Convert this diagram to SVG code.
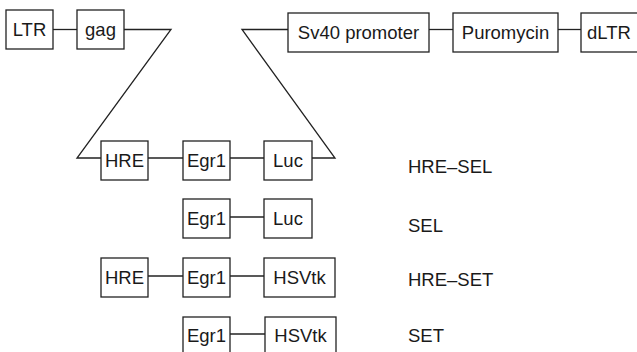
<svg xmlns="http://www.w3.org/2000/svg" width="637" height="352" viewBox="0 0 637 352">
  <style>
    .box { fill: #ffffff; stroke: #222222; stroke-width: 1.3; }
    .wire { fill: none; stroke: #222222; stroke-width: 1.3; stroke-linejoin: miter; }
    text { font-family: "Liberation Sans", Arial, sans-serif; font-size: 18.5px; fill: #1a1a1a; }
    .in { text-anchor: middle; }
  </style>
  <rect width="637" height="352" fill="#ffffff"/>

  <!-- connectors -->
  <g id="connectors">
    <!-- vector backbone with insert cut-out -->
    <polyline class="wire" points="53,29.5 77,29.5"/>
    <polyline class="wire" points="124,29.5 171,29.5 77,158 101,158"/>
    <polyline class="wire" points="312,158 335,158 242,29.5 288,29.5"/>
    <line class="wire" x1="429" y1="29.5" x2="453" y2="29.5"/>
    <line class="wire" x1="558" y1="29.5" x2="581" y2="29.5"/>
    <!-- HRE-SEL -->
    <line class="wire" x1="148" y1="158" x2="183" y2="158"/>
    <line class="wire" x1="230" y1="158" x2="264" y2="158"/>
    <!-- SEL -->
    <line class="wire" x1="230" y1="217" x2="264" y2="217"/>
    <!-- HRE-SET -->
    <line class="wire" x1="148" y1="276" x2="183" y2="276"/>
    <line class="wire" x1="230" y1="276" x2="264" y2="276"/>
    <!-- SET -->
    <line class="wire" x1="230" y1="334" x2="265" y2="334"/>
  </g>

  <!-- vector elements -->
  <g id="ltr"><rect class="box" x="6" y="10" width="47" height="39"/><text class="in" x="29.5" y="36">LTR</text></g>
  <g id="gag"><rect class="box" x="77" y="10" width="47" height="39"/><text class="in" x="100.5" y="36">gag</text></g>
  <g id="sv40"><rect class="box" x="288" y="13" width="141" height="39"/><text class="in" x="358.5" y="39">Sv40 promoter</text></g>
  <g id="puromycin"><rect class="box" x="453" y="13" width="105" height="39"/><text class="in" x="505.5" y="39">Puromycin</text></g>
  <g id="dltr"><rect class="box" x="581" y="13" width="62" height="39"/><text x="587" y="39">dLTR</text></g>

  <!-- HRE-SEL row -->
  <g id="hre1"><rect class="box" x="101" y="141" width="47" height="39"/><text class="in" x="124.5" y="167">HRE</text></g>
  <g id="egr1a"><rect class="box" x="183" y="141" width="47" height="39"/><text class="in" x="206.5" y="167">Egr1</text></g>
  <g id="luc1"><rect class="box" x="264" y="141" width="48" height="39"/><text class="in" x="288" y="167">Luc</text></g>

  <!-- SEL row -->
  <g id="egr1b"><rect class="box" x="183" y="199" width="47" height="39"/><text class="in" x="206.5" y="225">Egr1</text></g>
  <g id="luc2"><rect class="box" x="264" y="199" width="48" height="39"/><text class="in" x="288" y="225">Luc</text></g>

  <!-- HRE-SET row -->
  <g id="hre2"><rect class="box" x="101" y="258" width="47" height="39"/><text class="in" x="124.5" y="284">HRE</text></g>
  <g id="egr1c"><rect class="box" x="183" y="258" width="47" height="39"/><text class="in" x="206.5" y="284">Egr1</text></g>
  <g id="hsvtk1"><rect class="box" x="264" y="258" width="71" height="39"/><text class="in" x="299.5" y="284">HSVtk</text></g>

  <!-- SET row -->
  <g id="egr1d"><rect class="box" x="183" y="317" width="47" height="39"/><text class="in" x="206.5" y="342">Egr1</text></g>
  <g id="hsvtk2"><rect class="box" x="265" y="317" width="71" height="39"/><text class="in" x="300.5" y="342">HSVtk</text></g>

  <!-- construct names -->
  <g id="labels">
    <text x="408" y="173">HRE–SEL</text>
    <text x="408" y="232">SEL</text>
    <text x="408" y="286">HRE–SET</text>
    <text x="408" y="342">SET</text>
  </g>
</svg>
